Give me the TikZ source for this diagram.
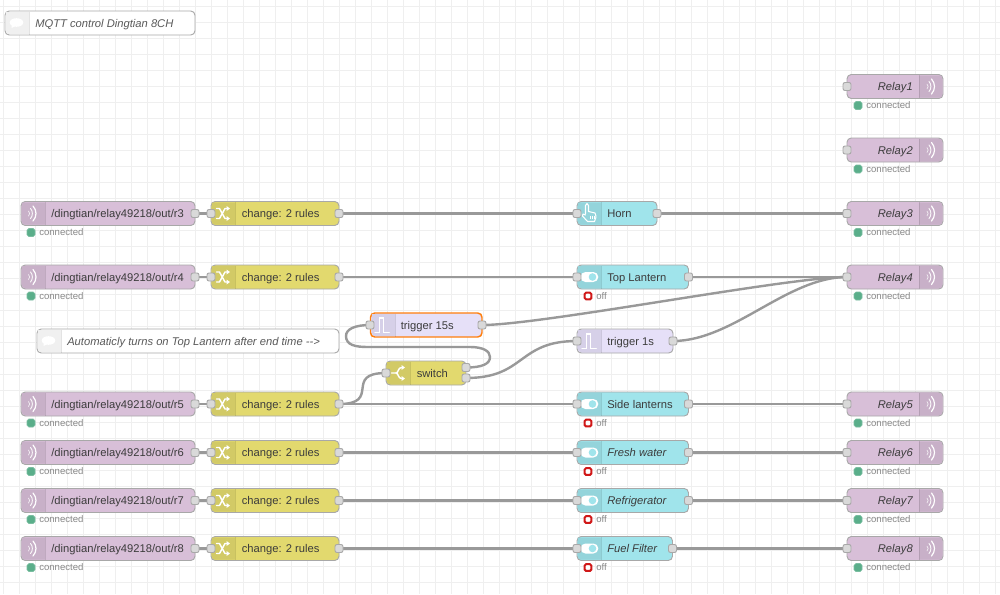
\documentclass[tikz,border=0pt]{standalone}
\usepackage{fontspec}
\setmainfont{Liberation Sans}
\usetikzlibrary{backgrounds}
\definecolor{mqtt}{HTML}{D8BFD8}\definecolor{mqttd}{HTML}{C8B0C8}
\definecolor{chg}{HTML}{E2D96E}\definecolor{chgd}{HTML}{D2CA66}
\definecolor{trg}{HTML}{E6E0F8}\definecolor{trgd}{HTML}{D6D0E8}
\definecolor{dsh}{HTML}{A0E4EB}\definecolor{dshd}{HTML}{94D4DB}
\definecolor{cmt}{HTML}{FFFFFF}\definecolor{cmtd}{HTML}{F0F0F0}
\definecolor{bord}{HTML}{A8A8A8}\definecolor{wirec}{HTML}{999999}
\definecolor{gridc}{HTML}{EFEFEF}\definecolor{txt}{HTML}{3C3C3C}
\definecolor{stat}{HTML}{888888}\definecolor{okc}{HTML}{5AAE8A}\definecolor{offc}{HTML}{D01818}
\definecolor{sel}{HTML}{FF7F0E}\definecolor{portc}{HTML}{D9D9D9}
\tikzset{
 x=0.75pt,y=-0.75pt,
 nrbox/.style={draw=bord,line width=0.7pt,rounded corners=3.2pt,minimum height=18pt,inner sep=0pt,outer sep=0pt},
 port/.style={draw=bord,fill=portc,line width=0.7pt,rounded corners=1.5pt,minimum width=6pt,minimum height=6pt,inner sep=0pt,outer sep=0pt},
 lbl/.style={inner sep=0pt,text=txt,font=\fontsize{8.4pt}{10pt}\selectfont,anchor=base west},
 lblr/.style={inner sep=0pt,text=txt,font=\fontsize{8.4pt}{10pt}\itshape\selectfont,anchor=base east},
 stattxt/.style={inner sep=0pt,text=stat,font=\fontsize{7.2pt}{9pt}\selectfont,anchor=base west},
 wire/.style={draw=wirec,line width=1.8pt},
 ic/.style={draw=white,line width=1pt,line cap=round,line join=round},
}
% #1 name, #2 left, #3 right, #4 y, #5 fill, #6 icon fill, #7 extra box opts
\newcommand{\nrbody}[7]{%
 \node[nrbox,fill=#5,minimum width={(#3-#2)*0.75pt},#7] (#1) at ({(#2+#3)/2},#4) {};
}
\newcommand{\iconleft}[3]{% left, y, colour
 \fill[#3,rounded corners=2.4pt] ({#1+24},{#2-11}) [sharp corners] -- ({#1+0.9},{#2-11}) [rounded corners=2.4pt] -- ({#1+0.9},{#2+11}) [sharp corners] -- ({#1+24},{#2+11}) -- cycle;
 \draw[black,opacity=0.1,line width=0.75pt] ({#1+24},{#2-11.5}) -- ({#1+24},{#2+11.5});
}
\newcommand{\iconright}[3]{% right, y, colour
 \fill[#3] ({#1-24},{#2-11}) -- ({#1-3},{#2-11}) to[out=0,in=90] ({#1-0.9},{#2-9}) -- ({#1-0.9},{#2+9}) to[out=-90,in=0] ({#1-3},{#2+11}) -- ({#1-24},{#2+11}) -- cycle;
 \draw[black,opacity=0.1,line width=0.75pt] ({#1-24},{#2-11.5}) -- ({#1-24},{#2+11.5});
}
\newcommand{\wifi}[2]{% centre x,y
 \begin{scope}[shift={(#1,#2)}]
  \draw[white,line width=0.5pt,line cap=round,opacity=.8] (-3.5,-2.5) .. controls (-2,-1.2) and (-2,1.2) .. (-3.5,2.5);
  \draw[white,line width=0.7pt,line cap=round,opacity=.9] (-1.5,-5) .. controls (1,-2.5) and (1,2.5) .. (-1.5,5);
  \draw[white,line width=0.9pt,line cap=round] (1,-7.5) .. controls (5,-3) and (5,3) .. (1,7.5);
 \end{scope}}
\newcommand{\shuffle}[2]{%
 \begin{scope}[shift={(#1,#2)}]
  \draw[ic,line width=1.1pt] (-6.5,-5) -- (-3.5,-5) -- (2,5) -- (4,5);
  \draw[ic,line width=1.1pt] (-6.5,5) -- (-3.5,5) -- (2,-5) -- (4,-5);
  \fill[white] (3.5,-7.5) -- (7,-5) -- (3.5,-2.5) -- cycle;
  \fill[white] (3.5,7.5) -- (7,5) -- (3.5,2.5) -- cycle;
 \end{scope}}
\newcommand{\pulse}[2]{%
 \begin{scope}[shift={(#1,#2)}]
  \draw[ic,line width=1.1pt,line join=miter] (-7,7.5) -- (-2.7,7.5) -- (-2.7,-7) -- (1.3,-7) -- (1.3,7.5) -- (7.3,7.5);
 \end{scope}}
\newcommand{\toggleic}[2]{%
 \begin{scope}[shift={(#1,#2)}]
  \fill[white,rounded corners=3.7pt] (-9,-5) rectangle (8.8,5);
  \fill[dsh] (3,0) circle (3.8);
 \end{scope}}
\newcommand{\splitic}[2]{%
 \begin{scope}[shift={(#1,#2)}]
  \draw[ic,line width=1.1pt] (-6.5,0) -- (-2,0) .. controls (0.5,0) and (0,-5.5) .. (3.5,-5.5);
  \draw[ic,line width=1.1pt] (-2,0) .. controls (0.5,0) and (0,5.5) .. (3.5,5.5);
  \fill[white] (3.5,-8) -- (7,-5.5) -- (3.5,-3) -- cycle;
  \fill[white] (3.5,8) -- (7,5.5) -- (3.5,3) -- cycle;
 \end{scope}}
\newcommand{\handic}[2]{%
 \begin{scope}[shift={(#1,#2)}]
  \draw[white,line width=0.8pt,line join=round,line cap=round]
    (-3.5,0) -- (-3.5,-8) .. controls (-3.5,-10.5) and (-0.5,-10.5) .. (-0.5,-8) -- (-0.5,-2) -- (6,-0.5) .. controls (7.5,3) and (7,5) .. (5.5,8) -- (-1.5,8) -- (-6.5,2.5) .. controls (-7.5,0.5) and (-5,-0.5) .. (-3.5,1.5);
  \draw[white,line width=0.5pt] (1,2) -- (1,5.5) (3,2) -- (3,5.5) (5,2) -- (5,5.5);
 \end{scope}}
\newcommand{\bubble}[2]{%
 \begin{scope}[shift={(#1,#2)}]
  \fill[white] (0,-0.5) ellipse (6.8 and 4.3);
  \fill[white] (-5,5) -- (-4.5,1) -- (-1,3) -- cycle;
 \end{scope}}
\newcommand{\statok}[3]{% name,x,y
 \node[draw=okc!80!white,fill=okc,rounded corners=1.4pt,minimum width=6pt,minimum height=6pt,inner sep=0pt,line width=0.4pt] (#1) at (#2,{#3}) {};
 \node[stattxt] (#1-t) at ({#2+8},{#3+3.4}) {connected};
}
\newcommand{\statoff}[3]{%
 \node[draw=offc,fill=white,rounded corners=1.2pt,minimum width=5.2pt,minimum height=5.2pt,inner sep=0pt,line width=1.5pt] (#1) at (#2,{#3}) {};
 \node[stattxt] (#1-t) at ({#2+8},{#3+3.4}) {off};
}
% input MQTT: name, y, text
\newcommand{\mqin}[3]{%
 \nrbody{#1}{21}{195}{#2}{mqtt}{mqttd}{}
 \iconleft{21}{#2}{mqttd}
 \wifi{32}{#2}
 \node[lbl] (#1-l) at (51,{#2+4}) {#3};
 \node[port] (#1-o) at (195,#2) {};
 \statok{#1-s}{31}{#2+19}
}
\newcommand{\chgnode}[2]{%
 \nrbody{#1}{211}{339}{#2}{chg}{chgd}{}
 \iconleft{211}{#2}{chgd}
 \shuffle{223}{#2}
 \node[lbl] (#1-l) at (241.5,{#2+4}) {change: 2 rules};
 \node[port] (#1-i) at (211,#2) {};
 \node[port] (#1-o) at (339,#2) {};
}
\newcommand{\relay}[3]{%
 \nrbody{#1}{847}{943}{#2}{mqtt}{mqttd}{}
 \iconright{943}{#2}{mqttd}
 \wifi{930.5}{#2}
 \node[lblr] (#1-l) at (913,{#2+4}) {#3};
 \node[port] (#1-i) at (847,#2) {};
 \statok{#1-s}{858}{#2+19}
}
% dash: name,right,y,text,font
\newcommand{\dashn}[5]{%
 \nrbody{#1}{577}{#2}{#3}{dsh}{dshd}{}
 \iconleft{577}{#3}{dshd}
 \toggleic{589.5}{#3}
 \node[lbl,#5] (#1-l) at (607,{#3+4}) {#4};
 \node[port] (#1-i) at (577,#3) {};
 \node[port] (#1-o) at (#2,#3) {};
 \statoff{#1-s}{588}{#3+19}
}
\newcommand{\comnode}[5]{% name,left,right,y,text
 \nrbody{#1}{#2}{#3}{#4}{cmt}{cmtd}{}
 \iconleft{#2}{#4}{cmtd}
 \bubble{{#2+11.5}}{#4}
 \node[lbl,text=txt!85!white,font=\fontsize{8.4pt}{10pt}\itshape\selectfont] (#1-l) at ({#2+30},{#4+4}) {#5};
}
\begin{document}
\begin{tikzpicture}
\useasboundingbox (0,0) rectangle (1000,594);
% nodes
\comnode{c1}{5}{195}{23}{MQTT control Dingtian 8CH}
\comnode{c2}{37}{339}{341}{Automaticly turns on Top Lantern after end time -{}->}
\relay{R1}{86.5}{Relay1}
\relay{R2}{150}{Relay2}
\relay{R3}{213.5}{Relay3}
\relay{R4}{277}{Relay4}
\relay{R5}{404}{Relay5}
\relay{R6}{452.5}{Relay6}
\relay{R7}{500.5}{Relay7}
\relay{R8}{548.5}{Relay8}
\mqin{M3}{213.5}{/dingtian/relay49218/out/r3}
\mqin{M4}{277}{/dingtian/relay49218/out/r4}
\mqin{M5}{404}{/dingtian/relay49218/out/r5}
\mqin{M6}{452.5}{/dingtian/relay49218/out/r6}
\mqin{M7}{500.5}{/dingtian/relay49218/out/r7}
\mqin{M8}{548.5}{/dingtian/relay49218/out/r8}
\chgnode{C3}{213.5}\chgnode{C4}{277}\chgnode{C5}{404}\chgnode{C6}{452.5}\chgnode{C7}{500.5}\chgnode{C8}{548.5}
% horn
\nrbody{H}{577}{657}{213.5}{dsh}{dshd}{}
\iconleft{577}{213.5}{dshd}
\handic{589}{213.5}
\node[lbl] (H-l) at (607,217.5) {Horn};
\node[port] (H-i) at (577,213.5) {};
\node[port] (H-o) at (657,213.5) {};
\dashn{T}{688.5}{277}{Top Lantern}{}
\dashn{S}{688.5}{404}{Side lanterns}{}
\dashn{F}{688.5}{452.5}{Fresh water}{font=\fontsize{8.4pt}{10pt}\itshape\selectfont}
\dashn{G}{688.5}{500.5}{Refrigerator}{font=\fontsize{8.4pt}{10pt}\itshape\selectfont}
\dashn{U}{672.5}{548.5}{Fuel Filter}{font=\fontsize{8.4pt}{10pt}\itshape\selectfont}
% triggers
\nrbody{TA}{370.5}{482}{325}{trg}{trgd}{draw=sel,line width=1.1pt}
\iconleft{371}{325}{trgd}
\pulse{382}{325}
\node[lbl] (TA-l) at (400.5,329) {trigger 15s};
\node[port] (TA-i) at (370,325) {};
\node[port] (TA-o) at (482,325) {};
\nrbody{TB}{577}{673}{341}{trg}{trgd}{}
\iconleft{577}{341}{trgd}
\pulse{589}{341}
\node[lbl] (TB-l) at (607,345) {trigger 1s};
\node[port] (TB-i) at (577,341) {};
\node[port] (TB-o) at (673,341) {};
% switch
\nrbody{SW}{386}{466}{373}{chg}{chgd}{}
\iconleft{386}{373}{chgd}
\splitic{398}{373}
\node[lbl] (SW-l) at (416.5,377) {switch};
\node[port] (SW-i) at (386,373) {};
\node[port] (SW-a) at (466,367.5) {};
\node[port] (SW-b) at (466,378) {};
% grid and wires
\begin{pgfonlayer}{background}
\fill[white] (0,0) rectangle (1000,594);
\foreach \g in {0,...,62} \draw[gridc,line width=0.75pt] ({\g*16+3},0) -- ({\g*16+3},594);
\foreach \g in {0,...,37} \draw[gridc,line width=0.75pt] (0,{\g*16+6}) -- (1000,{\g*16+6});
\foreach \a/\b in {M3/C3,M4/C4,M5/C5,M6/C6,M7/C7,M8/C8}
  \draw[wire] (\a-o.center) -- (\b-i.center);
\draw[wire] (C3-o.center) -- (H-i.center);
\draw[wire] (H-o.center) -- (R3-i.center);
\draw[wire] (C4-o.center) -- (T-i.center);
\draw[wire] (T-o.center) -- (R4-i.center);
\draw[wire] (C5-o.center) -- (S-i.center);
\draw[wire] (S-o.center) -- (R5-i.center);
\draw[wire] (C6-o.center) -- (F-i.center);
\draw[wire] (F-o.center) -- (R6-i.center);
\draw[wire] (C7-o.center) -- (G-i.center);
\draw[wire] (G-o.center) -- (R7-i.center);
\draw[wire] (C8-o.center) -- (U-i.center);
\draw[wire] (U-o.center) -- (R8-i.center);
\draw[wire] (C5-o.center) .. controls +(43,0) and +(-43,0) .. (SW-i.center);
\draw[wire] (SW-b.center) .. controls +(60,0) and +(-60,0) .. (TB-i.center);
\draw[wire] (TA-o.center) .. controls +(60,0) and +(-60,0) .. (R4-i.center);
\draw[wire] (TB-o.center) .. controls +(60,0) and +(-60,0) .. (R4-i.center);
\draw[wire] (SW-a.center) .. controls +(16,0) and (490,364) .. (490,357)
   .. controls (490,351) and (483,347) .. (470,347) -- (368,347)
   .. controls (355,347) and (346,345) .. (346,336)
   .. controls (346,329) and (355,325) .. (TA-i.center);
\end{pgfonlayer}
\end{tikzpicture}
\end{document}
